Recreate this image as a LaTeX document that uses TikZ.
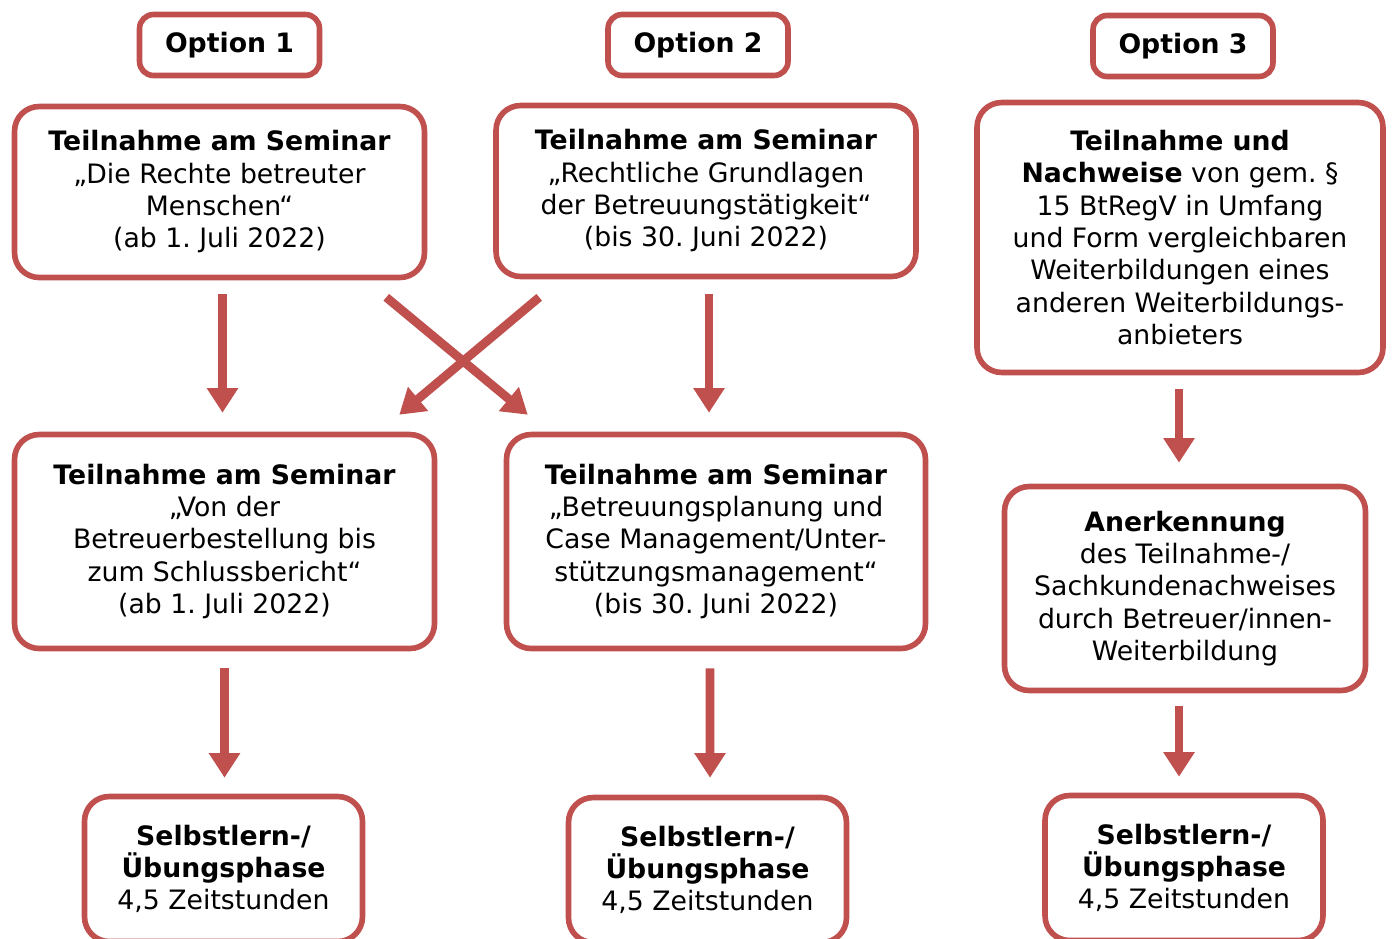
\documentclass[tikz,border=0pt]{standalone}
\usepackage{fontspec}
\setmainfont{DejaVu Sans}
\usepackage{tikz}
\usetikzlibrary{arrows.meta}
\definecolor{boxred}{HTML}{C0504D}
\newcommand\boxfont{\fontsize{15.2}{18.4}\selectfont}
\frenchspacing

\begin{document}
\begin{tikzpicture}[x=0.02cm, y=-0.02cm,
  box/.style={draw=boxred, line width=3.2pt, rounded corners=14pt, align=center, inner sep=0pt, font=\boxfont},
  opt/.style={box, rounded corners=8pt, minimum width=3.6cm, minimum height=1.22cm, font=\boxfont\bfseries},
  arr/.style={draw=boxred, line width=5pt, -{Triangle[length=14pt,width=17pt]}}]
  \useasboundingbox (0,0) rectangle (1395,938);

  \node[opt] (O1) at (229.5,45) {Option 1};
  \node[opt] (O2) at (698,45) {Option 2};
  \node[opt] (O3) at (1183,46) {Option 3};

  \node[box, minimum width=8.2cm, minimum height=3.42cm] (A) at (219.5,192)
    {\textbf{Teilnahme am Seminar}\\„Die Rechte betreuter\\Menschen“\\(ab 1. Juli 2022)};
  \node[box, minimum width=8.4cm, minimum height=3.42cm] (B) at (706,191)
    {\textbf{Teilnahme am Seminar}\\„Rechtliche Grundlagen\\der Betreuungstätigkeit“\\(bis 30. Juni 2022)};
  \node[box, minimum width=8.12cm, minimum height=5.4cm] (C) at (1180,237.5)
    {\textbf{Teilnahme und}\\\textbf{Nachweise} von gem. §\\15 BtRegV in Umfang\\und Form vergleichbaren\\Weiterbildungen eines\\anderen Weiterbildungs-\\anbieters};

  \node[box, minimum width=8.4cm, minimum height=4.28cm] (D) at (224.5,541.5)
    {\textbf{Teilnahme am Seminar}\\„Von der\\Betreuerbestellung bis\\zum Schlussbericht“\\(ab 1. Juli 2022)};
  \node[box, minimum width=8.38cm, minimum height=4.28cm] (E) at (716,541.5)
    {\textbf{Teilnahme am Seminar}\\„Betreuungsplanung und\\Case Management/Unter-\\stützungsmanagement“\\(bis 30. Juni 2022)};
  \node[box, minimum width=7.22cm, minimum height=4.08cm] (F) at (1185,588.5)
    {\textbf{Anerkennung}\\des Teilnahme-/\\Sachkundenachweises\\durch Betreuer/innen-\\Weiterbildung};

  \node[box, minimum width=5.56cm, minimum height=2.9cm] (G1) at (223.5,869)
    {\textbf{Selbstlern-/}\\\textbf{Übungsphase}\\4,5 Zeitstunden};
  \node[box, minimum width=5.56cm, minimum height=2.9cm] (G2) at (707.5,870)
    {\textbf{Selbstlern-/}\\\textbf{Übungsphase}\\4,5 Zeitstunden};
  \node[box, minimum width=5.56cm, minimum height=2.9cm] (G3) at (1184,868)
    {\textbf{Selbstlern-/}\\\textbf{Übungsphase}\\4,5 Zeitstunden};

  % Option 1 / 2
  \draw[arr] ([shift={(3,14)}]A.south) -- ([shift={(-2,-19)}]D.north);
  \draw[arr] ([shift={(3,15)}]B.south) -- ([shift={(-7,-19)}]E.north);
  \draw[arr] ([shift={(-41,17)}]A.south east) -- ([shift={(24,-17)}]E.north west);
  \draw[arr] ([shift={(46,18)}]B.south west) -- ([shift={(-38,-17)}]D.north east);
  \draw[arr] ([shift={(0,17)}]D.south) -- ([shift={(1,-16)}]G1.north);
  \draw[arr] ([shift={(-6,17)}]E.south) -- ([shift={(2.5,-17)}]G2.north);
  % Option 3
  \draw[arr] ([shift={(-1,14)}]C.south) -- ([shift={(-6,-21)}]F.north);
  \draw[arr] ([shift={(-6,13)}]F.south) -- ([shift={(-5,-16)}]G3.north);
\end{tikzpicture}
\end{document}
